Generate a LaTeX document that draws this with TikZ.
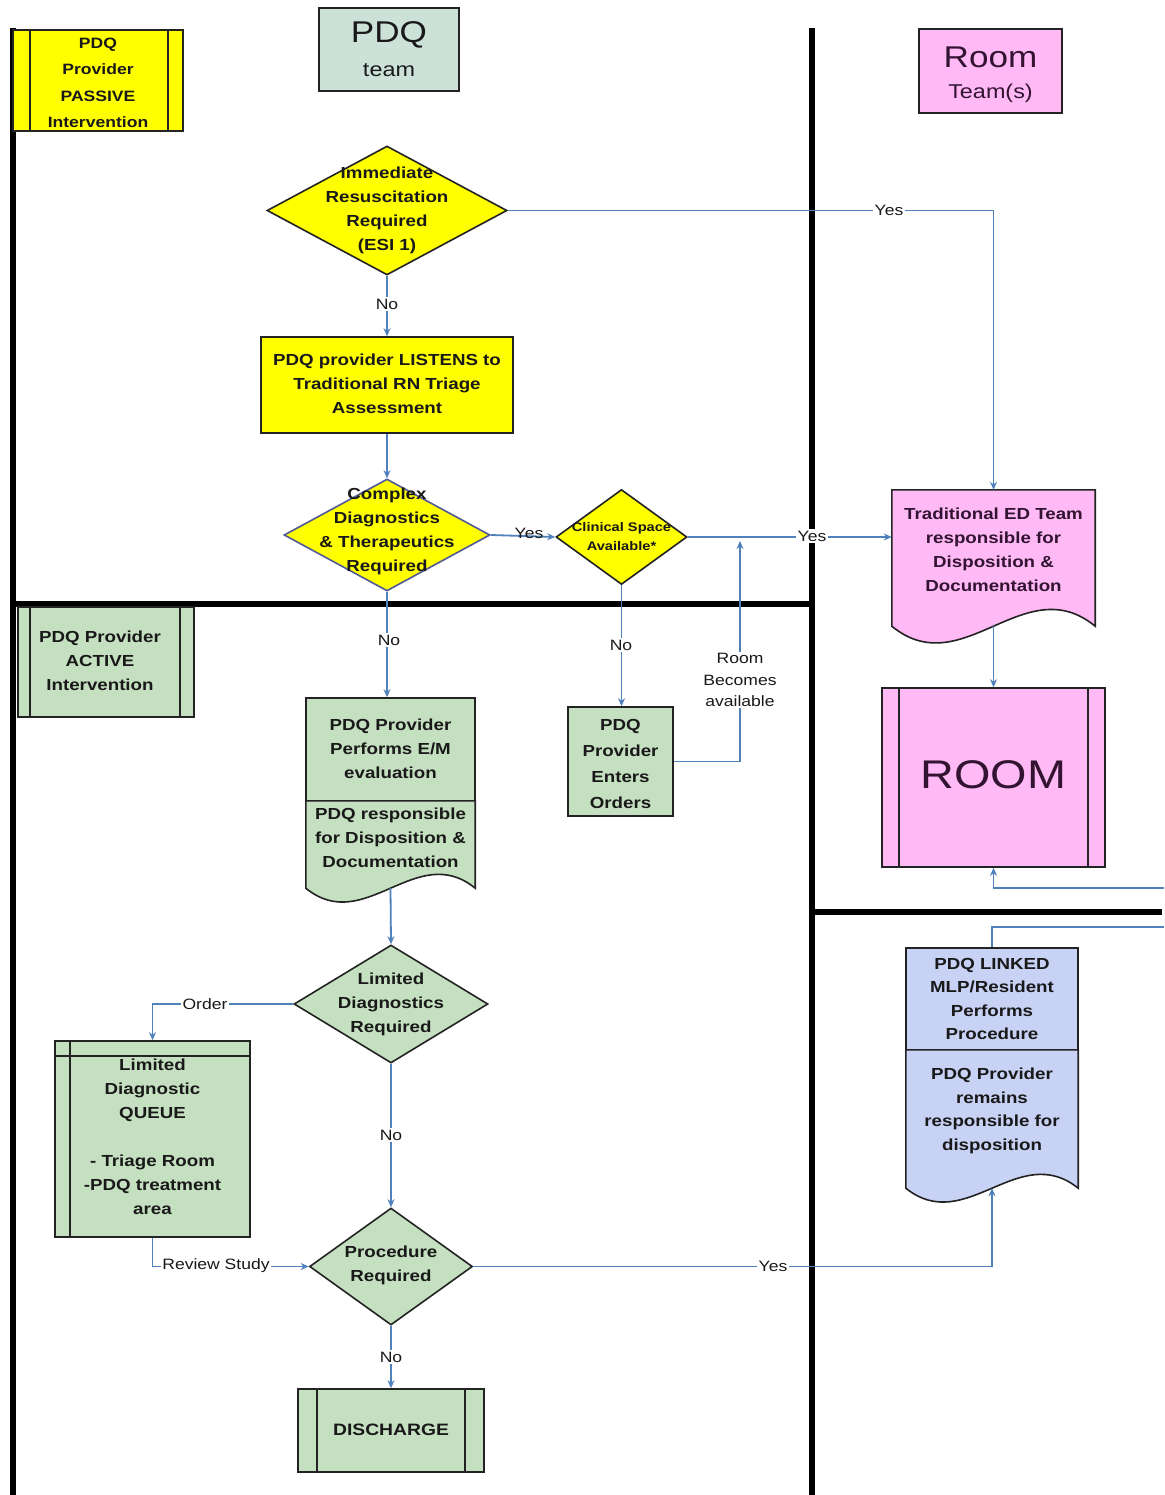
\documentclass[tikz,border=0pt]{standalone}
\usepackage{fontspec}
\setmainfont{Liberation Sans}[FakeStretch=1.17]
\usetikzlibrary{shapes.geometric,arrows.meta}
\definecolor{ylw}{RGB}{255,255,0}
\definecolor{grn}{RGB}{197,224,192}
\definecolor{teamc}{RGB}{204,226,216}
\definecolor{pnk}{RGB}{255,185,245}
\definecolor{lav}{RGB}{200,210,245}
\definecolor{conn}{RGB}{79,129,189}
\definecolor{edgec}{RGB}{35,35,35}
\definecolor{dedge}{RGB}{80,90,150}
\definecolor{pinktext}{RGB}{50,20,50}
\definecolor{txtc}{RGB}{25,25,25}
\begin{document}
\begin{tikzpicture}[x=1pt,y=-1pt,
  box/.style={draw=edgec, line width=1.6pt, inner sep=0pt},
  inl/.style={draw=edgec, line width=1.6pt},
  btxt/.style={font=\bfseries\fontsize{16}{24}\selectfont, align=center, inner sep=0pt, text=txtc},
  dia/.style={shape=diamond, draw=edgec, line width=1.6pt, inner sep=0pt},
  lane/.style={line width=6pt, black},
  flow/.style={draw=conn, line width=1.8pt, -{Stealth[length=8pt,width=7pt]}},
  link/.style={draw=conn, line width=1.8pt},
  lbl/.style={font=\fontsize{15}{21.5}\selectfont, align=center, fill=white, inner sep=1.5pt, text=txtc},
]
\useasboundingbox (0,0) rectangle (1164,1495);
\fill[white] (0,0) rectangle (1164,1495);

% swim lane separators
\draw[lane] (13,28) -- (13,1495);
\draw[lane] (812,28) -- (812,1495);
\draw[lane] (13,604) -- (812,604);
\draw[lane] (812,912) -- (1162,912);

% ---- headers
\node[box, fill=ylw, minimum width=170, minimum height=101] (passive) at (98,80.5) {};
\draw[inl] ([xshift=18pt]passive.north west) -- ([xshift=18pt]passive.south west);
\draw[inl] ([xshift=-16pt]passive.north east) -- ([xshift=-16pt]passive.south east);
\node[btxt, font=\bfseries\fontsize{15}{26.5}\selectfont] (passiveT) at (98,83) {PDQ\\Provider\\PASSIVE\\Intervention};

\node[box, fill=teamc, minimum width=140, minimum height=83] (team) at (389,49.5) {};
\node[anchor=base, font=\fontsize{30}{36}\selectfont, text=txtc, inner sep=0pt] (teamA) at (389,43) {PDQ};
\node[anchor=base, font=\fontsize{20}{24}\selectfont, text=txtc, inner sep=0pt] (teamB) at (389,77) {team};

\node[box, fill=pnk, minimum width=143, minimum height=84] (roomhdr) at (990.5,71) {};
\node[anchor=base, font=\fontsize{30}{36}\selectfont, text=pinktext, inner sep=0pt] (roomA) at (990.5,68) {Room};
\node[anchor=base, font=\fontsize{20}{24}\selectfont, text=pinktext, inner sep=0pt] (roomB) at (990.5,99) {Team(s)};

\node[box, fill=grn, minimum width=176, minimum height=110] (active) at (106,662) {};
\draw[inl] ([xshift=13pt]active.north west) -- ([xshift=13pt]active.south west);
\draw[inl] ([xshift=-15pt]active.north east) -- ([xshift=-15pt]active.south east);
\node[btxt] (activeT) at (100,661) {PDQ Provider\\ACTIVE\\Intervention};

% ---- passive lane
\node[dia, fill=ylw, minimum width=240, minimum height=129] (d1) at (387,210.5) {};
\node[btxt] (d1T) at (387,210) {Immediate\\Resuscitation\\Required\\(ESI 1)};

\node[box, fill=ylw, minimum width=252, minimum height=96] (listen) at (387,385) {};
\node[btxt] (listenT) at (387,384) {PDQ provider LISTENS to\\Traditional RN Triage\\Assessment};

\node[dia, draw=dedge, fill=ylw, minimum width=206, minimum height=112] (d2) at (387,535) {};
\node[btxt] (d2T) at (387,531) {Complex\\Diagnostics\\\& Therapeutics\\Required};

\node[dia, fill=ylw, minimum width=131, minimum height=95] (d3) at (621.5,537) {};
\node[btxt, font=\bfseries\fontsize{12.5}{19}\selectfont] (d3T) at (621.5,537) {Clinical Space\\Available*};

% ---- room team lane
\node[inner sep=0pt, minimum width=203, minimum height=136] (trad) at (993.5,558) {};
\draw[box, fill=pnk] (trad.south west) -- (trad.north west) -- (trad.north east) -- (trad.south east)
   .. controls +(-71,-58) and +(71,58) .. (trad.south west) -- cycle;
\node[btxt, text=pinktext] (tradT) at (993.5,550) {Traditional ED Team\\responsible for\\Disposition \&\\Documentation};

\node[box, fill=pnk, minimum width=223, minimum height=179] (room) at (993.5,777.5) {};
\draw[inl] ([xshift=18pt]room.north west) -- ([xshift=18pt]room.south west);
\draw[inl] ([xshift=-18pt]room.north east) -- ([xshift=-18pt]room.south east);
\node[font=\fontsize{40}{48}\selectfont, text=pinktext, inner sep=0pt] (roomT) at (993.5,775) {ROOM};

\node[box, fill=lav, minimum width=172, minimum height=102] (linked) at (992,999) {};
\node[btxt, font=\bfseries\fontsize{16}{23.5}\selectfont] (linkedT) at (992,999) {PDQ LINKED\\MLP/Resident\\Performs\\Procedure};
\node[inner sep=0pt, minimum width=172, minimum height=138] (remain) at (992,1119) {};
\draw[box, fill=lav] (remain.south west) -- (remain.north west) -- (remain.north east) -- (remain.south east)
   .. controls +(-60,-48) and +(60,48) .. (remain.south west) -- cycle;
\node[btxt, font=\bfseries\fontsize{16}{23.5}\selectfont] (remainT) at (992,1111) {PDQ Provider\\remains\\responsible for\\disposition};

% ---- active lane
\node[box, fill=grn, minimum width=169, minimum height=103] (perform) at (390.5,749.5) {};
\node[btxt] (performT) at (390.5,749) {PDQ Provider\\Performs E/M\\evaluation};
\node[inner sep=0pt, minimum width=169, minimum height=87] (resp) at (390.5,844.5) {};
\draw[box, fill=grn] (resp.south west) -- (resp.north west) -- (resp.north east) -- (resp.south east)
   .. controls +(-59,-48) and +(59,48) .. (resp.south west) -- cycle;
\node[btxt] (respT) at (390.5,838) {PDQ responsible\\for Disposition \&\\Documentation};

\node[box, fill=grn, minimum width=105, minimum height=109] (orders) at (620.5,761.5) {};
\node[btxt, font=\bfseries\fontsize{16}{26}\selectfont] (ordersT) at (620.5,764) {PDQ\\Provider\\Enters\\Orders};

\node[dia, fill=grn, minimum width=194, minimum height=118] (d4) at (391,1004) {};
\node[btxt] (d4T) at (391,1004) {Limited\\Diagnostics\\Required};

\node[box, fill=grn, minimum width=195, minimum height=196] (queue) at (152.5,1139) {};
\draw[inl] ([xshift=16pt]queue.north west) -- ([xshift=16pt]queue.south west);
\draw[inl] ([yshift=-16pt]queue.north west) -- ([yshift=-16pt]queue.north east);
\node[btxt] (queueT) at (152.5,1137) {Limited\\Diagnostic\\QUEUE\\[24pt]- Triage Room\\-PDQ treatment\\area};

\node[dia, fill=grn, minimum width=163, minimum height=117] (d5) at (391,1266.5) {};
\node[btxt] (d5T) at (391,1265) {Procedure\\Required};

\node[box, fill=grn, minimum width=186, minimum height=83] (discharge) at (391,1430.5) {};
\draw[inl] ([xshift=20pt]discharge.north west) -- ([xshift=20pt]discharge.south west);
\draw[inl] ([xshift=-20pt]discharge.north east) -- ([xshift=-20pt]discharge.south east);
\node[btxt, font=\bfseries\fontsize{16.5}{24}\selectfont] (dischargeT) at (391,1430) {DISCHARGE};

% ---- connectors
\coordinate (jn) at (740,541);
\coordinate (offA) at (1164,888);
\coordinate (offB) at (1164,927);

\draw[flow] (d1.east) -| (trad.north);
\node[lbl] (yes1) at (889,210) {Yes};

\draw[flow] (d1.south) -- (listen.north);
\node[lbl] (no1) at (387,304) {No};

\draw[flow] (listen.south) -- (d2.north);

\draw[flow] (d2.east) -- (d3.west);
\node[lbl, fill=none] (yes2) at (529,533) {Yes};

\draw[flow] (d3.east) -- (d3.east -| trad.west);
\node[lbl] (yes3) at (812,536) {Yes};

\draw[flow] (d2.south) -- (d2.south |- perform.north);
\node[lbl] (no2) at (389,640) {No};

\draw[flow] (d3.south) -- (d3.south |- orders.north);
\node[lbl] (no3) at (621,645) {No};

\draw[flow] (orders.east) -| (jn);
\node[lbl] (roomav) at (740,680) {Room\\Becomes\\available};

\draw[flow] (trad.south) -- (room.north);

\draw[flow] (resp.south) -- (d4.north);

\draw[flow] (d4.west) -| (queue.north);
\node[lbl] (order) at (205,1004) {Order};

\draw[flow] (d4.south) -- (d5.north);
\node[lbl] (no4) at (391,1135) {No};

\draw[flow] (queue.south) |- (d5.west);
\node[lbl] (review) at (216,1266) {Review Study};

\draw[flow] (d5.east) -| (remain.south);
\node[lbl] (yes4) at (773,1266) {Yes};

\draw[flow] (d5.south) -- (discharge.north);
\node[lbl] (no5) at (391,1357) {No};

\draw[flow] (offA) -| (room.south);
\draw[link] (linked.north) |- (offB);
\end{tikzpicture}
\end{document}
